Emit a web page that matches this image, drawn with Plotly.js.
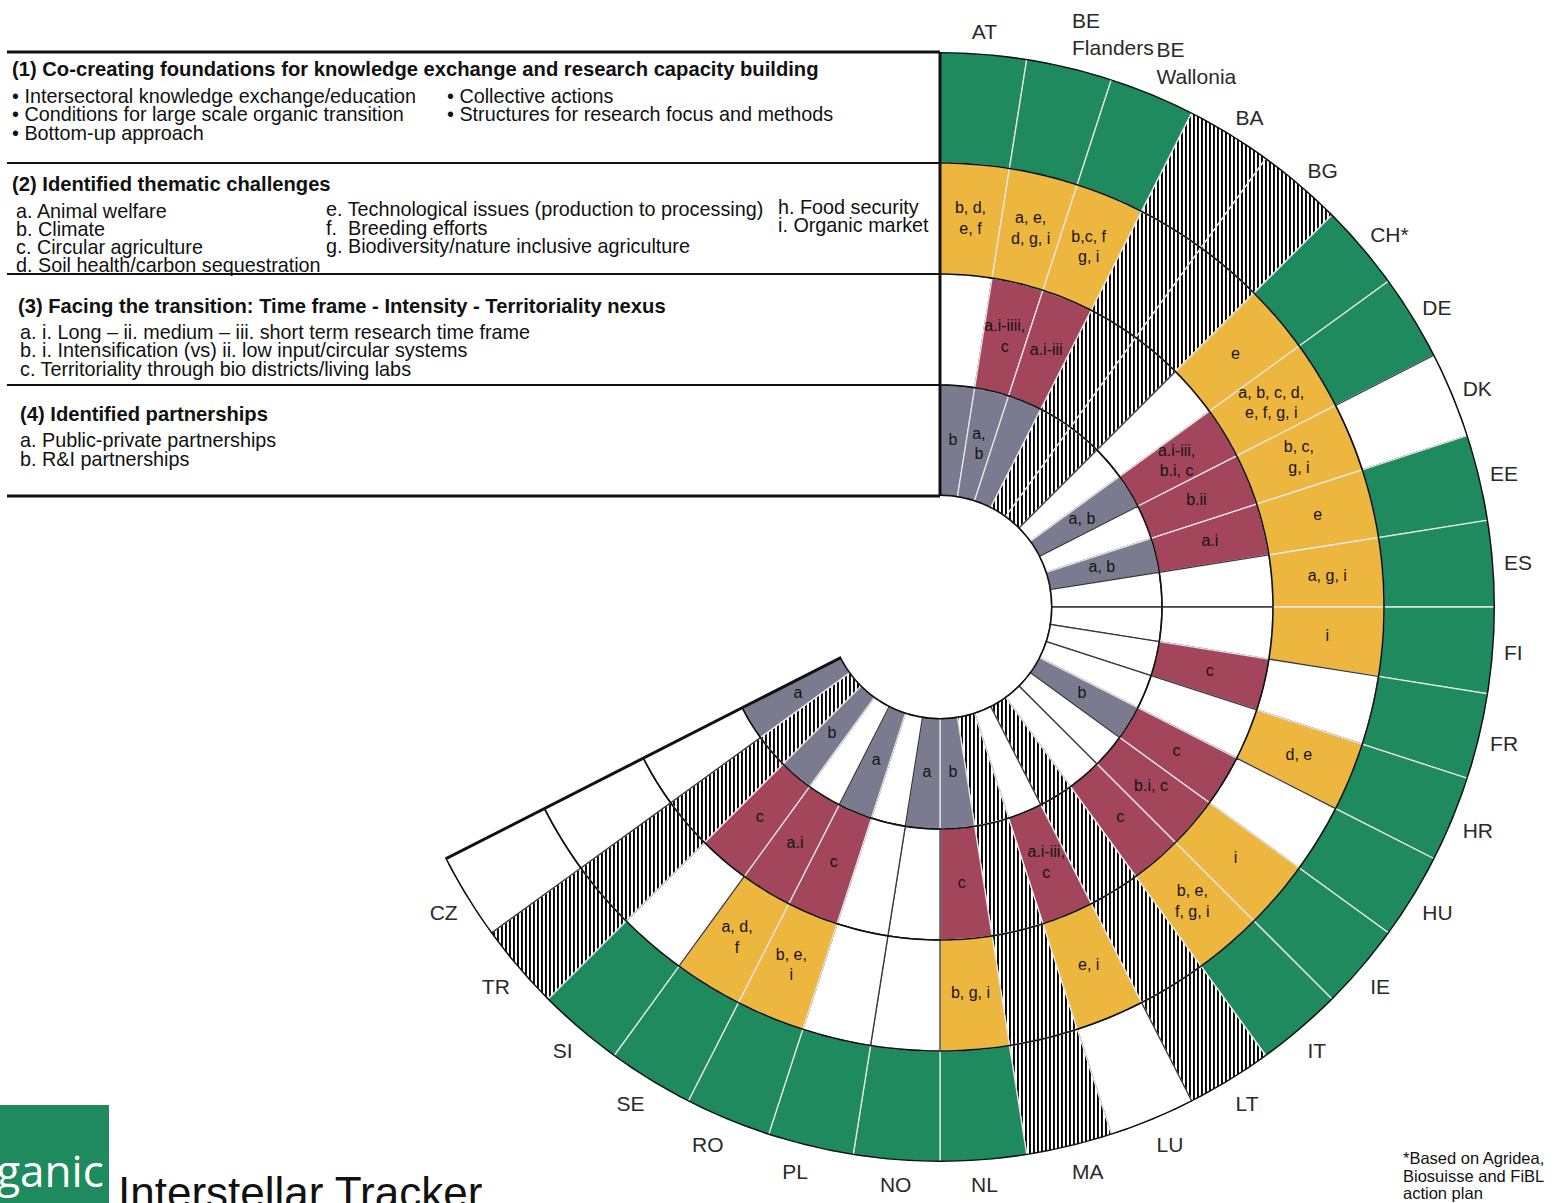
<!DOCTYPE html>
<html><head><meta charset="utf-8">
<script src="https://cdn.plot.ly/plotly-3.0.1.min.js"></script>
<style>html,body{margin:0;padding:0;background:#fff}#chart{width:1554px;height:1203px}</style>
</head><body><div id="chart"></div>
<script>
// ---------------- data ----------------
const countries = ["AT","BE<br>Flanders","BE<br>Wallonia","BA","BG","CH*","DE","DK","EE","ES","FI","FR","HR","HU","IE","IT","LT","LU","MA","NL","NO","PL","RO","SE","SI","TR","CZ"];
// status: F = identified (ring colour), W = not identified (white), H = not available (hatched)
const foundationsStatus  = ["F","F","F","H","H","F","F","W","F","F","F","F","F","F","F","F","H","W","H","F","F","F","F","F","F","H","W"];
const challengesStatus   = ["F","F","F","H","H","F","F","F","F","F","F","W","F","W","F","F","H","F","H","F","W","W","F","F","W","H","W"];
const challengesLabels   = ["b, d,<br>e, f","a, e,<br>d, g, i","b,c, f<br>g, i","","","e","a, b, c, d,<br>e, f, g, i","b, c,<br>g, i","e","a, g, i","i","","d, e","","i","b, e,<br>f, g, i","","e, i","","b, g, i","","","b, e,<br>i","a, d,<br>f","","",""];
const transitionStatus   = ["W","F","F","H","H","W","F","F","F","W","W","F","W","F","F","F","H","F","H","F","W","W","F","F","F","H","W"];
const transitionLabels   = ["","a.i-iiii,<br>c","a.i-iii","","","","a.i-iii,<br>b.i, c","b.ii","a.i","","","c","","c","b.i, c","c","","a.i-iii,<br>c","","c","","","c","a.i","c","",""];
const partnershipsStatus = ["F","F","F","H","H","W","F","W","F","W","W","W","W","F","W","W","H","W","H","F","F","W","F","W","F","H","F"];
const partnershipsLabels = ["b","a,<br>b","","","","","a, b","","a, b","","","","","b","","","","","","b","a","","a","","b","","a"];
const ringColours = {foundations:"#1e8a5e", challenges:"#ecb63f", transition:"#a3455b", partnerships:"#7b7b8f"};

// ---------------- geometry ----------------
const W = 1554, H = 1203, CX = 940, CY = 607, R = 555, HOLE = 0.2;
const SECTOR = 9;
const thetas = countries.map((_, i) => SECTOR * i + SECTOR / 2);
const endTheta = SECTOR * countries.length;
const RINGS = 4;
const ringPx = R * (1 - HOLE) / RINGS;
const FONT = "Liberation Sans, Arial, Helvetica, sans-serif";

function ringTrace(status, colour, base) {
  return {
    type: "barpolar",
    r: status.map(() => 1),
    base: status.map(() => base),
    theta: thetas,
    width: status.map(() => SECTOR),
    marker: {
      color: status.map(s => s === "F" ? colour : "#ffffff"),
      line: {color: status.map(s => s === "W" ? "#3a3a3a" : "#e6e6e6"), width: 1.3}
    },
    hoverinfo: "skip"
  };
}
function arcPts(r, t0, t1) {
  const th = [], rr = [];
  const step = t1 >= t0 ? 1 : -1;
  for (let t = t0; step > 0 ? t <= t1 : t >= t1; t += step) { th.push(t); rr.push(r); }
  return {th, rr};
}
const ringStatus = [partnershipsStatus, transitionStatus, challengesStatus, foundationsStatus];
const traces = [
  ringTrace(partnershipsStatus, ringColours.partnerships, 0),
  ringTrace(transitionStatus, ringColours.transition, 1),
  ringTrace(challengesStatus, ringColours.challenges, 2),
  ringTrace(foundationsStatus, ringColours.foundations, 3)
];
// ring separators
[1, 2, 3].forEach(k => {
  const a = arcPts(k, 0, endTheta);
  traces.push({type:"scatterpolar", mode:"lines", r:a.rr, theta:a.th, line:{color:"#111", width:1.6}, hoverinfo:"skip"});
});
// outer frame
{
  const outer = arcPts(RINGS, 0, endTheta), inner = arcPts(0, endTheta, 0);
  const th = [0].concat(outer.th, [endTheta], inner.th);
  const rr = [0].concat(outer.rr, [0], inner.rr);
  traces.push({type:"scatterpolar", mode:"lines", r:rr, theta:th, line:{color:"#111", width:3}, hoverinfo:"skip"});
}
// cell labels
{
  const txt = [], rr = [], th = [];
  [[partnershipsLabels,0],[transitionLabels,1],[challengesLabels,2]].forEach(([labels, base]) => {
    labels.forEach((t, i) => { if (t) { txt.push(t); rr.push(base + 0.5); th.push(thetas[i]); } });
  });
  traces.push({type:"scatterpolar", mode:"text", r:rr, theta:th, text:txt,
    textfont:{family:FONT, size:16, color:"#151515"}, hoverinfo:"skip", cliponaxis:false});
}

// ---------------- table / decorations ----------------
const px = x => x / W, py = y => 1 - y / H;
const boundaryY = k => CY - (R * HOLE + k * ringPx); // k=0 hole ... 4 outer
const shapes = [];
[[4,3],[3,2],[2,2],[1,2],[0,3]].forEach(([k, w]) => {
  shapes.push({type:"line", xref:"paper", yref:"paper", x0:px(7), x1:px(CX), y0:py(boundaryY(k)), y1:py(boundaryY(k)), line:{color:"#111", width:w}});
});
shapes.push({type:"rect", xref:"paper", yref:"paper", x0:px(0), x1:px(109), y0:py(1105), y1:py(1210), fillcolor:"#1e8a5e", line:{width:0}, layer:"below"});

const annotations = [];
function note(text, x, y, size, bold, opts) {
  annotations.push(Object.assign({xref:"paper", yref:"paper", x:px(x), y:py(y), xanchor:"left", yanchor:"middle", showarrow:false,
    text: bold ? "<b>" + text + "</b>" : text, font:{family:FONT, size:size, color:"#111"}}, opts || {}));
}
const tableTitles = [
  ["(1) Co-creating foundations for knowledge exchange and research capacity building", 10, 69],
  ["(2) Identified thematic challenges", 10, 184],
  ["(3) Facing the transition: Time frame - Intensity - Territoriality nexus", 16, 306],
  ["(4) Identified partnerships", 18, 414]
];
const tableItems = [
  ["• Intersectoral knowledge exchange/education", 10, 96],
  ["• Conditions for large scale organic transition", 10, 114],
  ["• Bottom-up approach", 10, 133],
  ["• Collective actions", 445, 96],
  ["• Structures for research focus and methods", 445, 114],
  ["a. Animal welfare", 14, 211],
  ["b. Climate", 14, 229],
  ["c. Circular agriculture", 14, 247],
  ["d. Soil health/carbon sequestration", 14, 265],
  ["e. Technological issues (production to processing)", 324, 209],
  ["f.\u00a0 Breeding efforts", 324, 228],
  ["g. Biodiversity/nature inclusive agriculture", 324, 246],
  ["h. Food security", 776, 207],
  ["i. Organic market", 776, 225],
  ["a. i. Long – ii. medium – iii. short term research time frame", 18, 332],
  ["b. i. Intensification (vs) ii. low input/circular systems", 18, 350],
  ["c. Territoriality through bio districts/living labs", 18, 369],
  ["a. Public-private partnerships", 18, 440],
  ["b. R&I partnerships", 18, 459]
];
tableTitles.forEach(([t, x, y]) => note(t, x, y, 20.2, true));
tableItems.forEach(([t, x, y]) => note(t, x, y, 19.8, false));
// footnote
["*Based on Agridea,", "Biosuisse and FiBL", "action plan"].forEach((t, i) => note(t, 1401, 1158 + i * 17.5, 16.5, false));
// logo & tracker title
note("Organic", 106, 1170, 44, false, {xanchor:"right", font:{family:"Open Sans, Liberation Sans, sans-serif", size:44, color:"#ffffff"}});
note("Interstellar Tracker", 116, 1192, 44, false);

const layout = {
  width: W, height: H, margin:{l:0, r:0, t:0, b:0},
  paper_bgcolor:"#ffffff", showlegend:false, dragmode:false,
  polar: {
    domain: {x:[(CX - R) / W, (CX + R) / W], y:[(H - CY - R) / H, (H - CY + R) / H]},
    hole: HOLE, bgcolor:"rgba(0,0,0,0)", barmode:"overlay",
    radialaxis: {range:[0, RINGS], visible:false},
    angularaxis: {rotation:90, direction:"clockwise", tickmode:"array", tickvals:thetas, ticktext:countries,
      showgrid:false, showline:false, ticks:"outside", ticklen:6, tickcolor:"rgba(0,0,0,0)",
      tickfont:{family:FONT, size:21, color:"#2a2a2a"}}
  },
  shapes, annotations
};
Plotly.newPlot("chart", traces, layout, {displayModeBar:false, staticPlot:true}).then(gd => {
  // vertical-line hatching for "not available" cells
  const NS = "http://www.w3.org/2000/svg";
  const svg = gd.querySelector("svg.main-svg");
  let defs = svg.querySelector("defs");
  if (!defs) { defs = document.createElementNS(NS, "defs"); svg.insertBefore(defs, svg.firstChild); }
  const pat = document.createElementNS(NS, "pattern");
  pat.setAttribute("id", "hatchNA"); pat.setAttribute("patternUnits", "userSpaceOnUse");
  pat.setAttribute("width", "4"); pat.setAttribute("height", "4");
  const bg = document.createElementNS(NS, "rect");
  bg.setAttribute("width", "4"); bg.setAttribute("height", "4"); bg.setAttribute("fill", "#ffffff");
  const fg = document.createElementNS(NS, "rect");
  fg.setAttribute("x", "0"); fg.setAttribute("width", "1.9"); fg.setAttribute("height", "4"); fg.setAttribute("fill", "#000000");
  pat.appendChild(bg); pat.appendChild(fg); defs.appendChild(pat);
  const groups = gd.querySelectorAll(".barlayer .trace");
  groups.forEach((g, ti) => {
    const st = ringStatus[ti]; if (!st) return;
    g.querySelectorAll(".point path").forEach((p, i) => { if (st[i] === "H") p.style.fill = "url(#hatchNA)"; });
  });
});
</script>
</body></html>
